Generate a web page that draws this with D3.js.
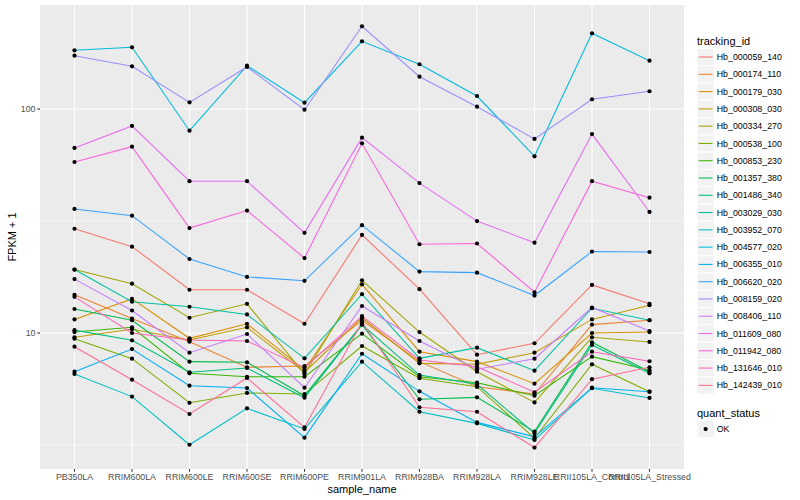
<!DOCTYPE html>
<html><head><meta charset="utf-8">
<script src="https://cdn.jsdelivr.net/npm/d3@7"></script>
<style>body{margin:0;background:#fff} text{font-family:"Liberation Sans",Arial,Helvetica,sans-serif}</style>
</head><body><svg id="c" width="800" height="500"></svg>
<script>
// ---- data ----
const samples = ["PB350LA","RRIM600LA","RRIM600LE","RRIM600SE","RRIM600PE","RRIM901LA","RRIM928BA","RRIM928LA","RRIM928LE","RRII105LA_Control","RRII105LA_Stressed"];
const trackingIds = ["Hb_000059_140","Hb_000174_110","Hb_000179_030","Hb_000308_030","Hb_000334_270","Hb_000538_100","Hb_000853_230","Hb_001357_380","Hb_001486_340","Hb_003029_030","Hb_003952_070","Hb_004577_020","Hb_006355_010","Hb_006620_020","Hb_008159_020","Hb_008406_110","Hb_011609_080","Hb_011942_080","Hb_131646_010","Hb_142439_010"];
const Hb_000059_140 = [29.2, 24.3, 15.6, 15.6, 11.0, 27.4, 15.7, 8.0, 9.0, 16.4, 13.5];
const Hb_000174_110 = [14.8, 11.6, 9.15, 7.03, 7.12, 11.4, 7.45, 5.76, 5.34, 10.9, 11.4];
const Hb_000179_030 = [11.5, 14.2, 9.47, 11.0, 6.84, 16.5, 8.25, 7.45, 5.94, 10.0, 10.1];
const Hb_000308_030 = [9.57, 10.4, 9.31, 10.6, 6.68, 11.7, 7.32, 7.25, 8.17, 11.5, 13.3];
const Hb_000334_270 = [19.2, 16.6, 11.7, 13.5, 6.56, 17.2, 10.1, 6.72, 4.90, 9.57, 9.12];
const Hb_000538_100 = [9.43, 7.68, 4.88, 5.40, 5.34, 8.75, 6.28, 5.76, 3.39, 7.25, 5.47];
const Hb_000853_230 = [10.1, 10.6, 6.61, 6.38, 6.38, 9.93, 6.38, 6.00, 5.25, 7.84, 6.84];
const Hb_001357_380 = [12.8, 11.4, 7.45, 7.40, 5.25, 10.9, 5.06, 5.16, 3.63, 9.09, 6.72];
const Hb_001486_340 = [10.3, 9.28, 6.68, 6.98, 5.14, 10.9, 6.49, 5.90, 3.57, 8.84, 6.61];
const Hb_003029_030 = [19.2, 13.8, 13.1, 12.1, 7.71, 14.9, 7.71, 8.60, 6.79, 12.9, 11.4];
const Hb_003952_070 = [6.56, 5.20, 3.17, 4.61, 3.73, 7.45, 4.45, 3.95, 3.33, 5.67, 5.13];
const Hb_004577_020 = [182.8, 188.6, 80.0, 156.1, 106.7, 200.5, 158.4, 114.3, 61.5, 217.8, 164.3];
const Hb_006355_010 = [6.72, 8.48, 5.82, 5.68, 3.41, 8.08, 5.49, 3.99, 3.44, 5.70, 5.47];
const Hb_006620_020 = [35.8, 33.4, 21.4, 17.8, 17.1, 30.3, 18.8, 18.6, 14.7, 23.1, 23.0];
const Hb_008159_020 = [173, 155.1, 107.1, 154, 99.3, 234, 139.4, 102.4, 73.5, 110.5, 120];
const Hb_008406_110 = [17.4, 12.6, 8.17, 9.90, 5.70, 13.2, 9.21, 6.89, 7.68, 13.0, 10.2];
const Hb_011609_080 = [67.0, 84.0, 47.6, 47.6, 28.0, 74.5, 46.7, 31.6, 25.3, 77.3, 34.7];
const Hb_011942_080 = [58.0, 67.9, 29.4, 35.2, 21.6, 70.3, 24.9, 25.1, 15.2, 47.6, 40.2];
const Hb_131646_010 = [14.5, 10.0, 9.31, 9.21, 7.00, 11.9, 7.58, 7.07, 5.44, 8.25, 7.48];
const Hb_142439_010 = [8.69, 6.19, 4.35, 6.30, 3.79, 11.2, 4.66, 4.45, 3.08, 6.22, 7.03];
const seriesValues = [Hb_000059_140,Hb_000174_110,Hb_000179_030,Hb_000308_030,Hb_000334_270,Hb_000538_100,Hb_000853_230,Hb_001357_380,Hb_001486_340,Hb_003029_030,Hb_003952_070,Hb_004577_020,Hb_006355_010,Hb_006620_020,Hb_008159_020,Hb_008406_110,Hb_011609_080,Hb_011942_080,Hb_131646_010,Hb_142439_010];
const yMajorTicks = [10, 100];
const yTickLabels = ["10", "100"];
const yMinorTicks = [3.1623, 31.623];
const quantStatus = ["OK"];
const palette = ["#F8766D","#EA8331","#D89000","#C09B00","#A3A500","#7CAE00","#39B600","#00BB4E","#00BF7D","#00C1A3","#00BFC4","#00BAE0","#00B0F6","#35A2FF","#9590FF","#C77CFF","#E76BF3","#FA62DB","#FF62BC","#FF6C91"];

// ---- layout ----
const P = {l: 40, r: 684, t: 5, b: 469};
const svg = d3.select("#c");
svg.append("rect").attr("width",800).attr("height",500).attr("fill","#fff");
const x = d3.scalePoint().domain(samples).range([P.l, P.r]).padding(0.6);
const y = d3.scaleLog().domain([2.471, 291.3]).range([P.b, P.t]);
const color = d3.scaleOrdinal().domain(trackingIds).range(palette);

svg.append("rect").attr("x",P.l).attr("y",P.t).attr("width",P.r-P.l).attr("height",P.b-P.t).attr("fill","#EBEBEB");
const grid = svg.append("g");
yMinorTicks.forEach(t => grid.append("line").attr("x1",P.l).attr("x2",P.r).attr("y1",y(t)).attr("y2",y(t)).attr("stroke","#fff").attr("stroke-width",0.55));
yMajorTicks.forEach(t => grid.append("line").attr("x1",P.l).attr("x2",P.r).attr("y1",y(t)).attr("y2",y(t)).attr("stroke","#fff").attr("stroke-width",1.07));
samples.forEach(s => grid.append("line").attr("x1",x(s)).attr("x2",x(s)).attr("y1",P.t).attr("y2",P.b).attr("stroke","#fff").attr("stroke-width",1.07));

// lines
const line = d3.line().x((d,i)=>x(samples[i])).y(d=>y(d));
seriesValues.forEach((vals,k) => {
  svg.append("path").attr("d", line(vals)).attr("fill","none")
    .attr("stroke", color(trackingIds[k])).attr("stroke-width",1.07);
});
// points
seriesValues.forEach((vals,k) => {
  vals.forEach((v,i) => svg.append("circle").attr("cx",x(samples[i])).attr("cy",y(v)).attr("r",2.1).attr("fill","#000"));
});

// axes
const ax = svg.append("g");
yMajorTicks.forEach((t,i) => {
  ax.append("line").attr("x1",P.l-2.75).attr("x2",P.l).attr("y1",y(t)).attr("y2",y(t)).attr("stroke","#333").attr("stroke-width",1.07);
  ax.append("text").attr("x",P.l-4.5).attr("y",y(t)).attr("dy","0.35em").attr("text-anchor","end")
    .attr("font-size",8.8).attr("fill","#4D4D4D").text(yTickLabels[i]);
});
samples.forEach(s => {
  ax.append("line").attr("x1",x(s)).attr("x2",x(s)).attr("y1",P.b).attr("y2",P.b+2.75).attr("stroke","#333").attr("stroke-width",1.07);
  ax.append("text").attr("x",x(s)).attr("y",P.b+11).attr("text-anchor","middle")
    .attr("font-size",8.8).attr("fill","#4D4D4D").text(s);
});
svg.append("text").attr("x",(P.l+P.r)/2).attr("y",493).attr("text-anchor","middle").attr("font-size",11).attr("fill","#000").text("sample_name");
svg.append("text").attr("transform",`translate(16,${(P.t+P.b)/2}) rotate(-90)`).attr("text-anchor","middle").attr("font-size",11).attr("fill","#000").text("FPKM + 1");

// legend
const lg = svg.append("g");
const lx = 697, ky0 = 48.4, kh = 17.28;
lg.append("text").attr("x",lx).attr("y",44.5).attr("font-size",11).attr("fill","#000").text("tracking_id");
trackingIds.forEach((id,i) => {
  const yy = ky0 + i*kh;
  lg.append("rect").attr("x",lx).attr("y",yy).attr("width",kh).attr("height",kh).attr("fill","#F2F2F2").attr("stroke","#fff").attr("stroke-width",1);
  lg.append("line").attr("x1",lx+1.7).attr("x2",lx+kh-1.7).attr("y1",yy+kh/2).attr("y2",yy+kh/2).attr("stroke",color(id)).attr("stroke-width",1.07);
  lg.append("text").attr("x",lx+kh+2.5).attr("y",yy+kh/2).attr("dy","0.35em").attr("font-size",8.8).attr("fill","#000").text(id);
});
const qy = 412.7;
lg.append("text").attr("x",lx).attr("y",qy+4).attr("font-size",11).attr("fill","#000").text("quant_status");
quantStatus.forEach((q,i) => {
  const yy = 420.4 + i*kh;
  lg.append("rect").attr("x",lx).attr("y",yy).attr("width",kh).attr("height",kh).attr("fill","#F2F2F2").attr("stroke","#fff").attr("stroke-width",1);
  lg.append("circle").attr("cx",lx+kh/2).attr("cy",yy+kh/2).attr("r",2.1).attr("fill","#000");
  lg.append("text").attr("x",lx+kh+2.5).attr("y",yy+kh/2).attr("dy","0.35em").attr("font-size",8.8).attr("fill","#000").text(q);
});
</script></body></html>
